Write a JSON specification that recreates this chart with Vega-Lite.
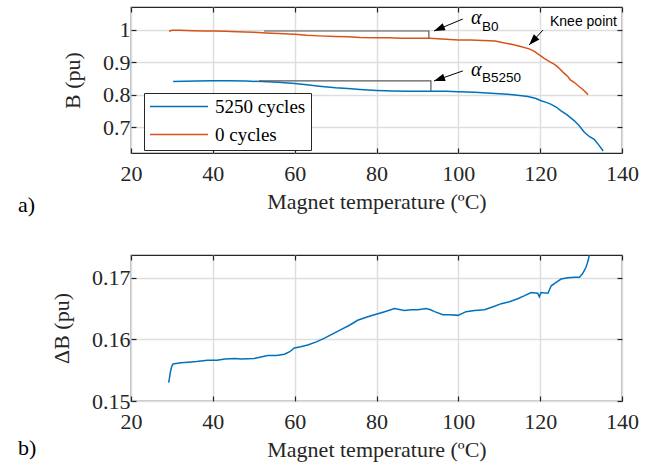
{
  "$schema": "https://vega.github.io/schema/vega-lite/v6.json",
  "autosize": {"type": "pad"},
  "padding": {"left": 17, "top": 5, "right": 5, "bottom": 5},
  "background": "white",
  "datasets": {
    "curves": [
      {"cycles": "0 cycles", "T": 29.3, "B": 0.995},
      {"cycles": "0 cycles", "T": 30, "B": 0.998},
      {"cycles": "0 cycles", "T": 32, "B": 0.998},
      {"cycles": "0 cycles", "T": 35, "B": 0.997},
      {"cycles": "0 cycles", "T": 38, "B": 0.996},
      {"cycles": "0 cycles", "T": 40, "B": 0.996},
      {"cycles": "0 cycles", "T": 43, "B": 0.995},
      {"cycles": "0 cycles", "T": 46, "B": 0.994},
      {"cycles": "0 cycles", "T": 50, "B": 0.992},
      {"cycles": "0 cycles", "T": 53, "B": 0.99},
      {"cycles": "0 cycles", "T": 56, "B": 0.988},
      {"cycles": "0 cycles", "T": 60, "B": 0.986},
      {"cycles": "0 cycles", "T": 63, "B": 0.983},
      {"cycles": "0 cycles", "T": 66, "B": 0.981},
      {"cycles": "0 cycles", "T": 70, "B": 0.979},
      {"cycles": "0 cycles", "T": 73, "B": 0.978},
      {"cycles": "0 cycles", "T": 76, "B": 0.976},
      {"cycles": "0 cycles", "T": 80, "B": 0.975},
      {"cycles": "0 cycles", "T": 83, "B": 0.975},
      {"cycles": "0 cycles", "T": 86, "B": 0.974},
      {"cycles": "0 cycles", "T": 90, "B": 0.974},
      {"cycles": "0 cycles", "T": 93, "B": 0.974},
      {"cycles": "0 cycles", "T": 96, "B": 0.971},
      {"cycles": "0 cycles", "T": 100, "B": 0.968},
      {"cycles": "0 cycles", "T": 103, "B": 0.968},
      {"cycles": "0 cycles", "T": 106, "B": 0.967},
      {"cycles": "0 cycles", "T": 109, "B": 0.965},
      {"cycles": "0 cycles", "T": 111, "B": 0.96},
      {"cycles": "0 cycles", "T": 113, "B": 0.955},
      {"cycles": "0 cycles", "T": 115, "B": 0.949},
      {"cycles": "0 cycles", "T": 117.3, "B": 0.941},
      {"cycles": "0 cycles", "T": 118.6, "B": 0.933},
      {"cycles": "0 cycles", "T": 119.7, "B": 0.923},
      {"cycles": "0 cycles", "T": 121, "B": 0.912},
      {"cycles": "0 cycles", "T": 122.5, "B": 0.9},
      {"cycles": "0 cycles", "T": 123.5, "B": 0.893},
      {"cycles": "0 cycles", "T": 124.4, "B": 0.884},
      {"cycles": "0 cycles", "T": 125.5, "B": 0.87},
      {"cycles": "0 cycles", "T": 126.8, "B": 0.855},
      {"cycles": "0 cycles", "T": 127.3, "B": 0.846},
      {"cycles": "0 cycles", "T": 128.3, "B": 0.838},
      {"cycles": "0 cycles", "T": 129.2, "B": 0.828},
      {"cycles": "0 cycles", "T": 130.5, "B": 0.815},
      {"cycles": "0 cycles", "T": 131.7, "B": 0.8},
      {"cycles": "5250 cycles", "T": 30.3, "B": 0.84},
      {"cycles": "5250 cycles", "T": 33, "B": 0.841},
      {"cycles": "5250 cycles", "T": 36, "B": 0.842},
      {"cycles": "5250 cycles", "T": 40, "B": 0.843},
      {"cycles": "5250 cycles", "T": 44, "B": 0.843},
      {"cycles": "5250 cycles", "T": 48, "B": 0.842},
      {"cycles": "5250 cycles", "T": 52, "B": 0.84},
      {"cycles": "5250 cycles", "T": 56, "B": 0.838},
      {"cycles": "5250 cycles", "T": 60, "B": 0.834},
      {"cycles": "5250 cycles", "T": 63, "B": 0.83},
      {"cycles": "5250 cycles", "T": 66, "B": 0.826},
      {"cycles": "5250 cycles", "T": 70, "B": 0.821},
      {"cycles": "5250 cycles", "T": 73, "B": 0.819},
      {"cycles": "5250 cycles", "T": 76, "B": 0.816},
      {"cycles": "5250 cycles", "T": 80, "B": 0.813},
      {"cycles": "5250 cycles", "T": 84, "B": 0.811},
      {"cycles": "5250 cycles", "T": 88, "B": 0.81},
      {"cycles": "5250 cycles", "T": 93, "B": 0.81},
      {"cycles": "5250 cycles", "T": 97, "B": 0.81},
      {"cycles": "5250 cycles", "T": 100, "B": 0.809},
      {"cycles": "5250 cycles", "T": 104, "B": 0.807},
      {"cycles": "5250 cycles", "T": 108, "B": 0.804},
      {"cycles": "5250 cycles", "T": 112, "B": 0.801},
      {"cycles": "5250 cycles", "T": 115, "B": 0.797},
      {"cycles": "5250 cycles", "T": 117, "B": 0.794},
      {"cycles": "5250 cycles", "T": 119, "B": 0.788},
      {"cycles": "5250 cycles", "T": 120.2, "B": 0.781},
      {"cycles": "5250 cycles", "T": 121.5, "B": 0.776},
      {"cycles": "5250 cycles", "T": 122.7, "B": 0.77},
      {"cycles": "5250 cycles", "T": 124, "B": 0.761},
      {"cycles": "5250 cycles", "T": 125.1, "B": 0.75},
      {"cycles": "5250 cycles", "T": 126.5, "B": 0.738},
      {"cycles": "5250 cycles", "T": 128.3, "B": 0.72},
      {"cycles": "5250 cycles", "T": 129.5, "B": 0.705},
      {"cycles": "5250 cycles", "T": 130.8, "B": 0.684},
      {"cycles": "5250 cycles", "T": 132, "B": 0.671},
      {"cycles": "5250 cycles", "T": 133.2, "B": 0.662},
      {"cycles": "5250 cycles", "T": 134.3, "B": 0.645},
      {"cycles": "5250 cycles", "T": 135.4, "B": 0.626}
    ],
    "dB": [
      {"T": 29.2, "dB": 0.153},
      {"T": 29.4, "dB": 0.1537},
      {"T": 29.6, "dB": 0.1546},
      {"T": 29.8, "dB": 0.1552},
      {"T": 30.0, "dB": 0.1557},
      {"T": 30.3, "dB": 0.156},
      {"T": 31.0, "dB": 0.1561},
      {"T": 32.2, "dB": 0.1562},
      {"T": 34, "dB": 0.1563},
      {"T": 36, "dB": 0.1564},
      {"T": 38.7, "dB": 0.1566},
      {"T": 41, "dB": 0.1566},
      {"T": 43, "dB": 0.1568},
      {"T": 45.3, "dB": 0.1569},
      {"T": 47, "dB": 0.1568},
      {"T": 50.1, "dB": 0.1569},
      {"T": 51.5, "dB": 0.1571},
      {"T": 53.4, "dB": 0.1574},
      {"T": 55.5, "dB": 0.1574},
      {"T": 57.5, "dB": 0.1576},
      {"T": 58.8, "dB": 0.158},
      {"T": 59.9, "dB": 0.1586},
      {"T": 61.5, "dB": 0.1588},
      {"T": 63.2, "dB": 0.1591},
      {"T": 65.3, "dB": 0.1596},
      {"T": 67.3, "dB": 0.1602},
      {"T": 69.3, "dB": 0.1609},
      {"T": 71.3, "dB": 0.1616},
      {"T": 73.4, "dB": 0.1623},
      {"T": 75.4, "dB": 0.1631},
      {"T": 77.5, "dB": 0.1636},
      {"T": 79.5, "dB": 0.164},
      {"T": 82, "dB": 0.1645},
      {"T": 84.4, "dB": 0.165},
      {"T": 86.8, "dB": 0.1647},
      {"T": 88.5, "dB": 0.1648},
      {"T": 90.1, "dB": 0.1648},
      {"T": 92.1, "dB": 0.165},
      {"T": 93.2, "dB": 0.1648},
      {"T": 94.2, "dB": 0.1645},
      {"T": 96.2, "dB": 0.164},
      {"T": 98, "dB": 0.164},
      {"T": 99.9, "dB": 0.1639},
      {"T": 101.9, "dB": 0.1645},
      {"T": 104, "dB": 0.1647},
      {"T": 106.4, "dB": 0.1648},
      {"T": 108.5, "dB": 0.1653},
      {"T": 110.5, "dB": 0.1658},
      {"T": 112.5, "dB": 0.1661},
      {"T": 114.5, "dB": 0.1666},
      {"T": 116.2, "dB": 0.1671},
      {"T": 117.8, "dB": 0.1676},
      {"T": 119.4, "dB": 0.1675},
      {"T": 119.8, "dB": 0.1669},
      {"T": 120.2, "dB": 0.1676},
      {"T": 121.9, "dB": 0.1675},
      {"T": 122.7, "dB": 0.1687},
      {"T": 124, "dB": 0.1693},
      {"T": 125.1, "dB": 0.1698},
      {"T": 126.8, "dB": 0.17},
      {"T": 128.4, "dB": 0.1701},
      {"T": 129.6, "dB": 0.1701},
      {"T": 130.3, "dB": 0.1706},
      {"T": 130.8, "dB": 0.1712},
      {"T": 131.2, "dB": 0.1717},
      {"T": 131.5, "dB": 0.1723},
      {"T": 131.8, "dB": 0.173},
      {"T": 132.0, "dB": 0.1737}
    ]
  },
  "vconcat": [
    {
      "width": 491,
      "height": 146,
      "layer": [
        {
          "layer": [
            {
              "data": {"name": "curves"},
              "mark": {"type": "line", "strokeWidth": 1.5},
              "encoding": {
                "x": {"field": "T", "type": "quantitative", "scale": {"domain": [20, 140], "nice": false, "zero": false},
                      "axis": {"values": [20, 40, 60, 80, 100, 120, 140], "title": "Magnet temperature (ºC)"}},
                "y": {"field": "B", "type": "quantitative", "scale": {"domain": [0.62, 1.07], "nice": false, "zero": false},
                      "axis": {"values": [0.7, 0.8, 0.9, 1], "format": ".1~f", "title": "B (pu)"}},
                "color": {"field": "cycles", "type": "nominal",
                  "scale": {"domain": ["5250 cycles", "0 cycles"], "range": ["#0072BD", "#D95319"]},
                  "legend": {"orient": "none", "legendX": 13, "legendY": 86, "title": null,
                    "symbolType": "stroke", "symbolSize": 3364, "symbolStrokeWidth": 1.5, "clipHeight": 17,
                    "labelFont": "Liberation Serif", "labelFontSize": 19, "labelColor": "#000000",
                    "fillColor": "white", "strokeColor": "#262626", "padding": 5, "rowPadding": 8, "labelOffset": 6}}
              }
            },
            {
              "data": {"values": [
                {"g": "B0", "T": 52.5, "B": 0.996, "o": 1},
                {"g": "B0", "T": 92.8, "B": 0.996, "o": 2},
                {"g": "B0", "T": 92.8, "B": 0.9744, "o": 3},
                {"g": "B5250", "T": 51.3, "B": 0.842, "o": 1},
                {"g": "B5250", "T": 93.3, "B": 0.842, "o": 2},
                {"g": "B5250", "T": 93.3, "B": 0.811, "o": 3}
              ]},
              "mark": {"type": "line", "color": "#595959", "strokeWidth": 1.2},
              "encoding": {
                "x": {"field": "T", "type": "quantitative"},
                "y": {"field": "B", "type": "quantitative"},
                "detail": {"field": "g"},
                "order": {"field": "o"}
              }
            },
            {
              "data": {"values": [
                {"g": "B0", "T": 101.1, "B": 1.033, "T2": 94.05, "B2": 0.996},
                {"g": "B5250", "T": 101.1, "B": 0.873, "T2": 94.05, "B2": 0.842},
                {"g": "Knee", "T": 120.7, "B": 0.999, "T2": 117.3, "B2": 0.953}
              ]},
              "layer": [
                {"mark": {"type": "rule", "color": "black", "strokeWidth": 1},
                 "encoding": {
                   "x": {"field": "T", "type": "quantitative"},
                   "y": {"field": "B", "type": "quantitative"},
                   "x2": {"field": "T2"},
                   "y2": {"field": "B2"}
                 }},
                {"transform": [{"filter": "datum.g == 'B0'"}],
                 "mark": {"type": "point", "shape": "M0,0L-2,-0.7L-2,0.7Z", "filled": true, "color": "black", "opacity": 1, "size": 121, "angle": 157.5, "strokeWidth": 0},
                 "encoding": {"x": {"field": "T2", "type": "quantitative"}, "y": {"field": "B2", "type": "quantitative"}}},
                {"transform": [{"filter": "datum.g == 'B5250'"}],
                 "mark": {"type": "point", "shape": "M0,0L-2,-0.7L-2,0.7Z", "filled": true, "color": "black", "opacity": 1, "size": 121, "angle": 161, "strokeWidth": 0},
                 "encoding": {"x": {"field": "T2", "type": "quantitative"}, "y": {"field": "B2", "type": "quantitative"}}},
                {"transform": [{"filter": "datum.g == 'Knee'"}],
                 "mark": {"type": "point", "shape": "M0,0L-2,-0.7L-2,0.7Z", "filled": true, "color": "black", "opacity": 1, "size": 121, "angle": 133, "strokeWidth": 0},
                 "encoding": {"x": {"field": "T2", "type": "quantitative"}, "y": {"field": "B2", "type": "quantitative"}}}
              ]
            },
            {
              "data": {"values": [
                {"T": 103.1, "B": 1.0176, "t": "α"},
                {"T": 103.1, "B": 0.8573, "t": "α"}
              ]},
              "mark": {"type": "text", "font": "Liberation Serif", "fontStyle": "italic", "fontSize": 20, "align": "left", "baseline": "alphabetic", "color": "#000000"},
              "encoding": {"x": {"field": "T", "type": "quantitative"}, "y": {"field": "B", "type": "quantitative"}, "text": {"field": "t"}}
            },
            {
              "data": {"values": [
                {"T": 105.8, "B": 0.996, "t": "B0"},
                {"T": 105.8, "B": 0.8388, "t": "B5250"}
              ]},
              "mark": {"type": "text", "font": "Liberation Sans", "fontSize": 13.5, "align": "left", "baseline": "alphabetic", "color": "#000000"},
              "encoding": {"x": {"field": "T", "type": "quantitative"}, "y": {"field": "B", "type": "quantitative"}, "text": {"field": "t"}}
            },
            {
              "data": {"values": [
                {"T": 122.4, "B": 1.0114, "t": "Knee point"}
              ]},
              "mark": {"type": "text", "font": "Liberation Sans", "fontSize": 14, "align": "left", "baseline": "alphabetic", "color": "#000000"},
              "encoding": {"x": {"field": "T", "type": "quantitative"}, "y": {"field": "B", "type": "quantitative"}, "text": {"field": "t"}}
            },
            {
              "data": {"values": [
                {"T": -7.6, "B": 0.4381, "t": "a)"}
              ]},
              "mark": {"type": "text", "font": "Liberation Serif", "fontSize": 22, "align": "left", "baseline": "alphabetic", "color": "#000000"},
              "encoding": {"x": {"field": "T", "type": "quantitative"}, "y": {"field": "B", "type": "quantitative"}, "text": {"field": "t"}}
            }
          ]
        },
        {
          "data": {"values": [{"T": 20, "B": 0.62}]},
          "mark": {"type": "point", "opacity": 0},
          "encoding": {
            "x": {"field": "T", "type": "quantitative", "scale": {"domain": [20, 140], "nice": false, "zero": false},
                  "axis": {"orient": "top", "labels": false, "title": null, "grid": false, "values": [20, 40, 60, 80, 100, 120, 140]}},
            "y": {"field": "B", "type": "quantitative", "scale": {"domain": [0.62, 1.07], "nice": false, "zero": false},
                  "axis": {"orient": "right", "labels": false, "title": null, "grid": false, "values": [0.7, 0.8, 0.9, 1]}}
          }
        }
      ],
      "resolve": {"scale": {"x": "independent", "y": "independent"}}
    },
    {
      "width": 491,
      "height": 146,
      "layer": [
        {
          "layer": [
            {
              "data": {"name": "dB"},
              "mark": {"type": "line", "strokeWidth": 1.5, "color": "#0072BD"},
              "encoding": {
                "x": {"field": "T", "type": "quantitative", "scale": {"domain": [20, 140], "nice": false, "zero": false},
                      "axis": {"values": [20, 40, 60, 80, 100, 120, 140], "title": "Magnet temperature (ºC)"}},
                "y": {"field": "dB", "type": "quantitative", "scale": {"domain": [0.15, 0.1737], "nice": false, "zero": false},
                      "axis": {"values": [0.15, 0.16, 0.17], "format": ".2f", "title": "ΔB (pu)"}}
              }
            },
            {
              "data": {"values": [
                {"T": -7.6, "dB": 0.1412, "t": "b)"}
              ]},
              "mark": {"type": "text", "font": "Liberation Serif", "fontSize": 22, "align": "left", "baseline": "alphabetic", "color": "#000000"},
              "encoding": {"x": {"field": "T", "type": "quantitative"}, "y": {"field": "dB", "type": "quantitative"}, "text": {"field": "t"}}
            }
          ]
        },
        {
          "data": {"values": [{"T": 20, "dB": 0.15}]},
          "mark": {"type": "point", "opacity": 0},
          "encoding": {
            "x": {"field": "T", "type": "quantitative", "scale": {"domain": [20, 140], "nice": false, "zero": false},
                  "axis": {"orient": "top", "labels": false, "title": null, "grid": false, "values": [20, 40, 60, 80, 100, 120, 140]}},
            "y": {"field": "dB", "type": "quantitative", "scale": {"domain": [0.15, 0.1737], "nice": false, "zero": false},
                  "axis": {"orient": "right", "labels": false, "title": null, "grid": false, "values": [0.15, 0.16, 0.17]}}
          }
        }
      ],
      "resolve": {"scale": {"x": "independent", "y": "independent"}}
    }
  ],
  "spacing": 102,
  "bounds": "flush",
  "config": {
    "view": {"stroke": "#262626", "strokeWidth": 1.2},
    "axis": {
      "labelFont": "Liberation Serif", "labelFontSize": 22, "labelColor": "#262626", "labelFlush": false,
      "titleFont": "Liberation Serif", "titleFontSize": 22, "titleFontWeight": "normal", "titleColor": "#262626",
      "tickColor": "#262626", "tickSize": -5, "tickWidth": 1.2,
      "gridColor": "#dedede", "gridWidth": 1.5, "domain": false,
      "labelPadding": 15, "titlePadding": 7
    },
    "axisY": {"titlePadding": 18, "labelPadding": 6}
  }
}
